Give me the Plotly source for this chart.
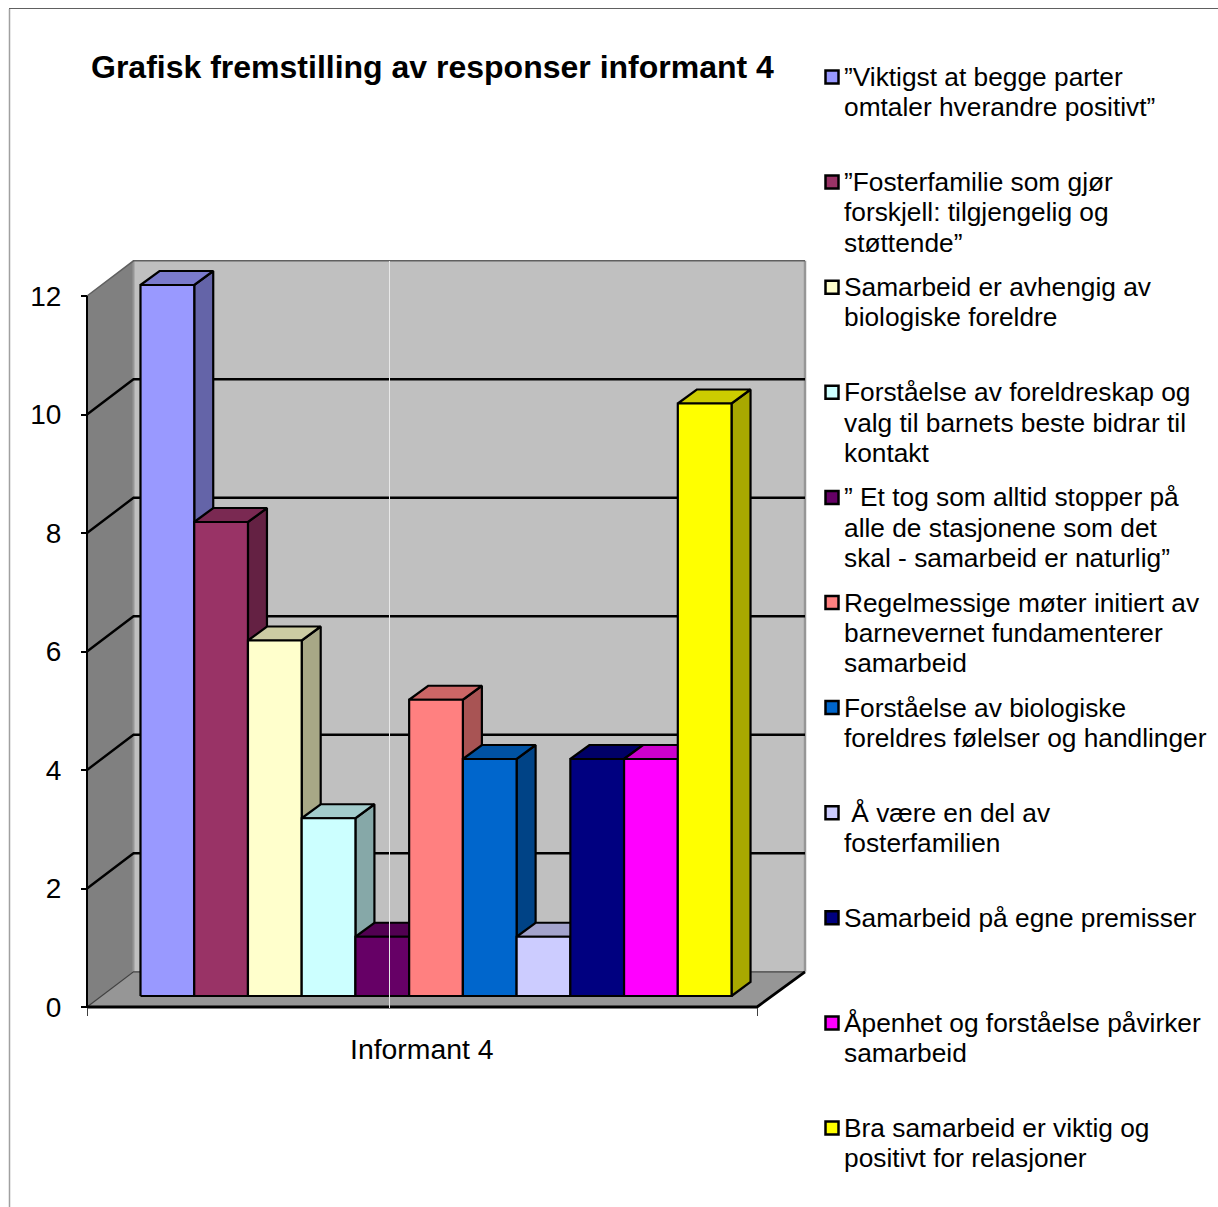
import plotly.graph_objects as go

TITLE = "Grafisk fremstilling av responser informant 4"
CATEGORY = "Informant 4"
SERIES = [
    ["”Viktigst at begge parter", "omtaler hverandre positivt”"],
    ["”Fosterfamilie som gjør", "forskjell: tilgjengelig og", "støttende”"],
    ["Samarbeid er avhengig av", "biologiske foreldre"],
    ["Forståelse av foreldreskap og", "valg til barnets beste bidrar til", "kontakt"],
    ["” Et tog som alltid stopper på", "alle de stasjonene som det", "skal - samarbeid er naturlig”"],
    ["Regelmessige møter initiert av", "barnevernet fundamenterer", "samarbeid"],
    ["Forståelse av biologiske", "foreldres følelser og handlinger"],
    ["\u00a0Å være en del av", "fosterfamilien"],
    ["Samarbeid på egne premisser"],
    ["Åpenhet og forståelse påvirker", "samarbeid"],
    ["Bra samarbeid er viktig og", "positivt for relasjoner"],
]
VALUES = [12, 8, 6, 3, 1, 5, 4, 1, 4, 4, 10]
FRONT = ["#9999FF", "#993366", "#FFFFCC", "#CCFFFF", "#660066", "#FF8080",
         "#0066CC", "#CCCCFF", "#000080", "#FF00FF", "#FFFF00"]
TOP = ["#7A7ACC", "#7A2952", "#CCCCA3", "#A3CCCC", "#520052", "#CC6666",
       "#0052A3", "#A3A3CC", "#000066", "#CC00CC", "#CCCC00"]
SIDE = ["#6464A8", "#642143", "#A8A886", "#86A8A8", "#430043", "#A85454",
        "#004386", "#8686A8", "#000054", "#A800A8", "#A8A800"]
TICKS = [0, 2, 4, 6, 8, 10, 12]

W, H = 1218, 1207
PX_X = 53.73           # px per bar
PX_Y = 59.25           # px per value unit
X0_PX, Y0_PX = 140.5, 1007
FONT = "Liberation Sans"


def ux(px):
    return (px - X0_PX) / PX_X


def uy(py):
    return (Y0_PX - py) / PX_Y


xrange_ = [ux(0), ux(W)]
yrange_ = [uy(H), uy(0)]
bar_dx, bar_dy = 19 / PX_X, 14 / PX_Y
base = 11 / PX_Y
left, right = ux(87), ux(757)
wall_dx, wall_dy = 46.5 / PX_X, 35.2 / PX_Y
vmax = TICKS[-1]

fig = go.Figure()


def poly(xs, ys, fill, line="#000000", lw=2.2):
    fig.add_trace(go.Scatter(
        x=xs, y=ys, mode="lines", fill="toself", fillcolor=fill,
        line=dict(color=line if line else fill, width=lw if line else 0),
        hoverinfo="skip", showlegend=False))


def seg(xs, ys, color="#000000", lw=2.0):
    fig.add_trace(go.Scatter(x=xs, y=ys, mode="lines",
                             line=dict(color=color, width=lw),
                             hoverinfo="skip", showlegend=False))


bl, br = left + wall_dx, right + ux(805) - ux(757)
# walls and floor
poly([left, left + wall_dx, left + wall_dx, left, left],
     [0, wall_dy, vmax + wall_dy, vmax, 0], "#808080", None)
poly([bl, br, br, bl, bl], [wall_dy, wall_dy, vmax + wall_dy, vmax + wall_dy, wall_dy],
     "#C0C0C0", None)
poly([left, right, br, bl, left], [0, 0, wall_dy, wall_dy, 0], "#969696", None)
seg([bl, bl], [wall_dy, vmax + wall_dy], "#969696", 2)
seg([br, br], [wall_dy, vmax + wall_dy], "#969696", 2.5)
seg([left, bl, br], [vmax, vmax + wall_dy, vmax + wall_dy], "#606060", 1.5)
seg([left, bl, br], [0, wall_dy, wall_dy], "#404040", 1.2)
# gridlines
for t in TICKS[1:-1]:
    seg([left, bl, br], [t, t + wall_dy, t + wall_dy], "#000000", 2.4)
# axis lines
seg([left, left], [0, vmax], "#000000", 2)
seg([left, right, br], [0, 0, wall_dy], "#000000", 2.8)

# bars
for i, v in enumerate(VALUES):
    x0, x1 = float(i), float(i + 1)
    y0, y1 = base, base + v
    poly([x1, x1 + bar_dx, x1 + bar_dx, x1, x1],
         [y0, y0 + bar_dy, y1 + bar_dy, y1, y0], SIDE[i])
    poly([x0, x1, x1 + bar_dx, x0 + bar_dx, x0],
         [y1, y1, y1 + bar_dy, y1 + bar_dy, y1], TOP[i])
    poly([x0, x1, x1, x0, x0], [y0, y0, y1, y1, y0], FRONT[i])

# thin white artefact line across the wall
seg([ux(389.5), ux(389.5)], [uy(1008), uy(261)], "#E8E8E8", 1)

# legend keys
LEG_Y0, LEG_STEP, LINE_STEP = 77, 105.1, 30.3
fig.add_trace(go.Scatter(
    x=[ux(832)] * len(SERIES),
    y=[uy(LEG_Y0 + LEG_STEP * i) for i in range(len(SERIES))],
    mode="markers",
    marker=dict(symbol="square", size=13, color=FRONT,
                line=dict(color="#000000", width=2.5)),
    hoverinfo="skip", showlegend=False))

annotations = [dict(text=f"<b>{TITLE}</b>", x=88.8 / W, y=1 - 67 / H, xref="paper", yref="paper",
                    xanchor="left", yanchor="middle", showarrow=False,
                    font=dict(family=FONT, size=32, color="#000000")),
               dict(text=CATEGORY, x=421.5 / W, y=1 - 1049 / H, xref="paper", yref="paper",
                    xanchor="center", yanchor="middle", showarrow=False,
                    font=dict(family=FONT, size=28.4, color="#000000"))]
for i, lines in enumerate(SERIES):
    for j, line in enumerate(lines):
        annotations.append(dict(
            text=line, x=842.5 / W, y=1 - (LEG_Y0 + LEG_STEP * i + LINE_STEP * j) / H,
            xref="paper", yref="paper", xanchor="left", yanchor="middle", align="left",
            showarrow=False, borderpad=0,
            font=dict(family=FONT, size=26.3, color="#000000")))

fig.update_layout(
    width=W, height=H, margin=dict(l=0, r=0, t=0, b=0, pad=0),
    paper_bgcolor="#FFFFFF", plot_bgcolor="#FFFFFF", showlegend=False,
    annotations=annotations,
    xaxis=dict(range=xrange_, domain=[0, 1], showgrid=False, zeroline=False,
               showline=False, anchor="free", position=(H - Y0_PX) / H,
               tickmode="array", tickvals=[left, right], ticktext=["", ""],
               ticks="outside", ticklen=8, tickwidth=1, tickcolor="#404040",
               fixedrange=True, automargin=False),
    yaxis=dict(range=yrange_, domain=[0, 1], showgrid=False, zeroline=False,
               showline=False, anchor="free", position=87 / W,
               tickmode="array", tickvals=TICKS, ticktext=[str(t) for t in TICKS],
               ticks="outside", ticklen=6, tickwidth=1.5, tickcolor="#000000",
               ticklabelstandoff=14,
               tickfont=dict(family=FONT, size=28, color="#000000"),
               fixedrange=True, automargin=False),
    shapes=[
        dict(type="line", xref="paper", yref="paper", x0=9.5 / W, x1=9.5 / W, y0=0, y1=1 - 9 / H,
             line=dict(color="#A0A0A0", width=1.5)),
        dict(type="line", xref="paper", yref="paper", x0=9 / W, x1=1, y0=1 - 8.5 / H, y1=1 - 8.5 / H,
             line=dict(color="#606060", width=1)),
    ],
)

fig.write_html("out.html", config=dict(displayModeBar=False),
               post_script="document.body.style.margin='0';document.body.style.overflow='hidden';")
